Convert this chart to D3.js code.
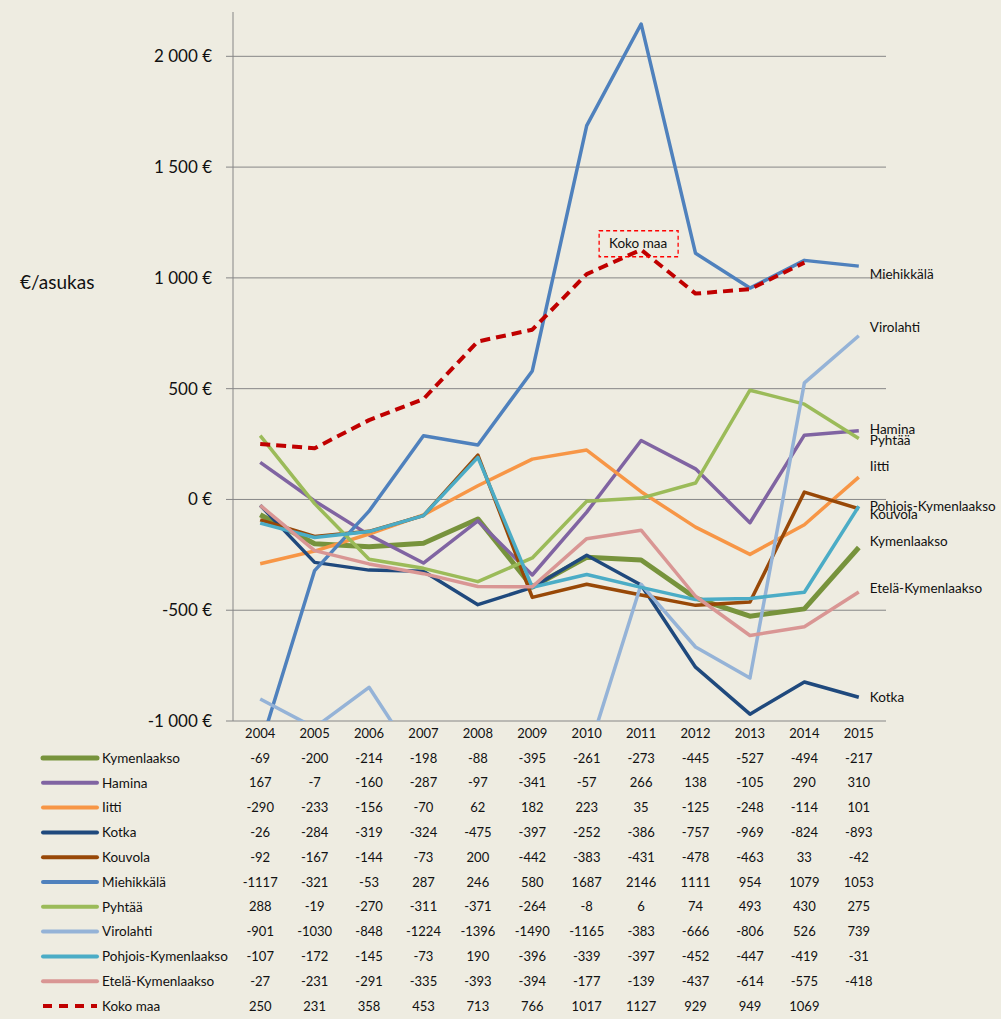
<!DOCTYPE html>
<html><head><meta charset="utf-8">
<script src="https://cdn.jsdelivr.net/npm/d3@7"></script>
<style>
body{margin:0;background:#EEECE1;}
svg{display:block;font-family:Lato,"Open Sans",sans-serif;}
</style></head>
<body><svg id="c" width="1001" height="1019"></svg>
<script>
const years = ["2004","2005","2006","2007","2008","2009","2010","2011","2012","2013","2014","2015"];
const seriesNames = ["Kymenlaakso","Hamina","Iitti","Kotka","Kouvola","Miehikkälä","Pyhtää","Virolahti","Pohjois-Kymenlaakso","Etelä-Kymenlaakso","Koko maa"];
const kymenlaakso = [-69,-200,-214,-198,-88,-395,-261,-273,-445,-527,-494,-217];
const hamina = [167,-7,-160,-287,-97,-341,-57,266,138,-105,290,310];
const iitti = [-290,-233,-156,-70,62,182,223,35,-125,-248,-114,101];
const kotka = [-26,-284,-319,-324,-475,-397,-252,-386,-757,-969,-824,-893];
const kouvola = [-92,-167,-144,-73,200,-442,-383,-431,-478,-463,33,-42];
const miehikkala = [-1117,-321,-53,287,246,580,1687,2146,1111,954,1079,1053];
const pyhtaa = [288,-19,-270,-311,-371,-264,-8,6,74,493,430,275];
const virolahti = [-901,-1030,-848,-1224,-1396,-1490,-1165,-383,-666,-806,526,739];
const pohjoisKymenlaakso = [-107,-172,-145,-73,190,-396,-339,-397,-452,-447,-419,-31];
const etelaKymenlaakso = [-27,-231,-291,-335,-393,-394,-177,-139,-437,-614,-575,-418];
const kokoMaa = [250,231,358,453,713,766,1017,1127,929,949,1069,null];
const yTicks = [-1000,-500,0,500,1000,1500,2000];

const values = [kymenlaakso,hamina,iitti,kotka,kouvola,miehikkala,pyhtaa,virolahti,pohjoisKymenlaakso,etelaKymenlaakso,kokoMaa];
const colors = ["#77933C","#8064A2","#F79646","#1F497D","#984807","#4F81BD","#9BBB59","#95B3D7","#4BACC6","#D99694","#C00000"];
const widths = [5,3.5,3.5,3.5,3.5,3.5,3.5,3.5,3.5,3.5,4];
const labelDy = [-6,-1,-11,0,6,8,2,-8,0,-4,0];

const svg = d3.select("#c");
const L=233,R=886,T=12,B=721;
const x = d3.scaleBand().domain(years).range([L,R]);
const y = d3.scaleLinear().domain([-1000,2200]).range([B,T]);
const cx = d => x(d)+x.bandwidth()/2;

// gridlines
svg.append("g").selectAll("line").data(yTicks).join("line")
  .attr("x1",L-7).attr("x2",R).attr("y1",d=>y(d)).attr("y2",d=>y(d))
  .attr("stroke","#868686").attr("stroke-width",1);
svg.append("line").attr("x1",L).attr("x2",L).attr("y1",T).attr("y2",B).attr("stroke","#868686");

// y labels
svg.append("g").selectAll("text").data(yTicks).join("text")
  .attr("x",L-21).attr("y",d=>y(d)).attr("dy","0.35em").attr("text-anchor","end")
  .attr("font-size",17).attr("fill","#111")
  .text(d=>d3.format(",")(d).replace(/,/g," ").replace("\u2212","-")+" €");
svg.append("text").attr("x",20).attr("y",282).attr("dy","0.35em").attr("font-size",19).attr("fill","#111").text("€/asukas");

svg.append("clipPath").attr("id","pc").append("rect").attr("x",L).attr("y",T).attr("width",R-L).attr("height",B-T);

const line = d3.line().defined(d=>d.v!==null).x(d=>cx(d.yr)).y(d=>y(d.v));
const g = svg.append("g").attr("clip-path","url(#pc)");
values.forEach((vals,i)=>{
  g.append("path").datum(vals.map((v,j)=>({yr:years[j],v})))
   .attr("d",line).attr("fill","none").attr("stroke",colors[i]).attr("stroke-width",widths[i])
   .attr("stroke-linejoin","round")
   .attr("stroke-dasharray", i===10 ? "10,6" : null);
});

// end labels
values.forEach((vals,i)=>{
  if(i===10) return;
  const last = vals[vals.length-1];
  svg.append("text").attr("x",cx(years[years.length-1])+11).attr("y",y(last)+labelDy[i]).attr("dy","0.35em")
   .attr("font-size",13.5).attr("fill","#111").text(seriesNames[i]);
});
// Koko maa annotation
const kx = cx("2011"), ky = y(kokoMaa[7]);
svg.append("rect").attr("x",kx-42).attr("y",ky-19).attr("width",79).attr("height",26)
  .attr("fill","none").attr("stroke","#FF0000").attr("stroke-width",1.3).attr("stroke-dasharray","4,3");
svg.append("text").attr("x",kx-3).attr("y",ky-6).attr("dy","0.35em").attr("text-anchor","middle").attr("font-size",13.5).attr("fill","#111").text("Koko maa");

// data table
const rowY = i => 758 + i*24.8;
svg.append("g").selectAll("text").data(years).join("text")
  .attr("x",d=>cx(d)).attr("y",733).attr("dy","0.35em").attr("text-anchor","middle").attr("font-size",13).attr("fill","#111").text(d=>d);
values.forEach((vals,i)=>{
  svg.append("line").attr("x1",43).attr("x2",97).attr("y1",rowY(i)).attr("y2",rowY(i))
    .attr("stroke",colors[i]).attr("stroke-width",i===0?5:4)
    .attr("stroke-dasharray", i===10 ? "9,7" : null).attr("stroke-linecap", i===10 ? "butt" : "round");
  svg.append("text").attr("x",102).attr("y",rowY(i)).attr("dy","0.35em").attr("font-size",13.5).attr("fill","#111").text(seriesNames[i]);
  svg.append("g").selectAll("text").data(vals.map((v,j)=>({yr:years[j],v}))).join("text")
   .attr("x",d=>cx(d.yr)).attr("y",rowY(i)).attr("dy","0.35em").attr("text-anchor","middle").attr("font-size",13).attr("fill","#111")
   .text(d=>d.v===null?"":d.v);
});
</script></body></html>
